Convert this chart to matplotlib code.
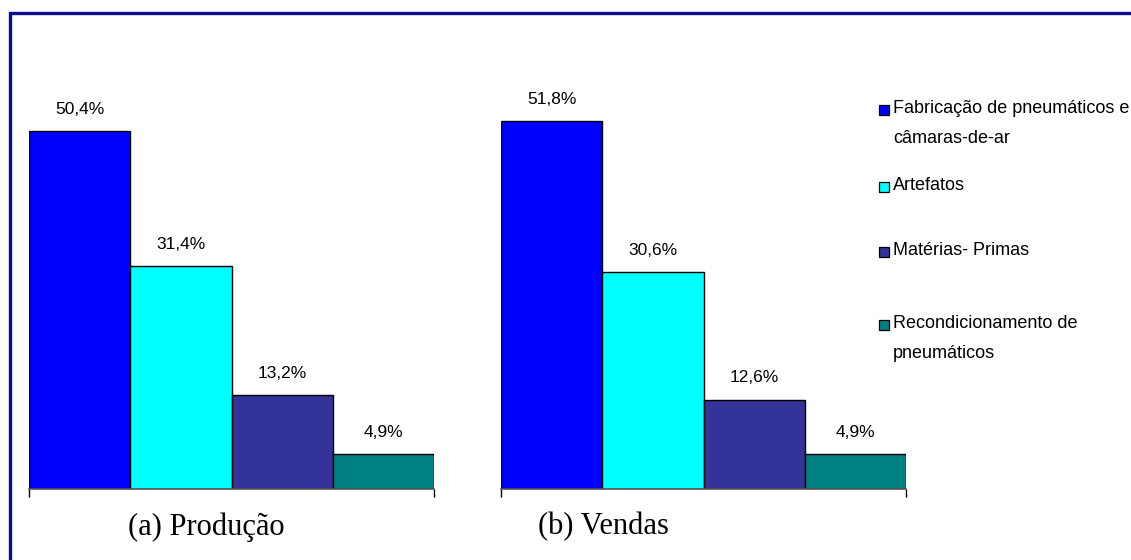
import matplotlib
matplotlib.use("Agg")
import matplotlib.pyplot as plt
from matplotlib.lines import Line2D
from matplotlib.patches import Rectangle

categories = ["Fabricação de pneumáticos e\ncâmaras-de-ar", "Artefatos",
              "Matérias- Primas", "Recondicionamento de\npneumáticos"]
producao = [50.4, 31.4, 13.2, 4.9]
vendas = [51.8, 30.6, 12.6, 4.9]
titles = ["(a) Produção", "(b) Vendas"]
colors = ["#0000FF", "#00FFFF", "#333399", "#008080"]

W, H = 1131, 560
fig = plt.figure(figsize=(W / 100, H / 100), dpi=100)

def fx(px):
    return px / W

def fy(py):
    return 1 - py / H

ymax = 60
base_px = 489
px_per_unit = 7.10
ax_h = ymax * px_per_unit

for left_px, vals, title, tx in [(29, producao, titles[0], 206), (501, vendas, titles[1], 603)]:
    ax = fig.add_axes([fx(left_px), fy(base_px), fx(405), ax_h / H])
    xs = list(range(len(vals)))
    ax.bar(xs, vals, width=1.0, align="edge", color=colors, edgecolor="black", linewidth=1.0)
    for x, v in zip(xs, vals):
        ax.text(x + 0.5, v + 2.0, f"{v:.1f}%".replace(".", ","), ha="center", va="bottom",
                fontsize=12.5, family="Liberation Sans", color="black")
    ax.set_xlim(0, len(vals))
    ax.set_ylim(0, ymax)
    for s in ["top", "right", "left"]:
        ax.spines[s].set_visible(False)
    ax.spines["bottom"].set_color("#555555")
    ax.spines["bottom"].set_linewidth(1.2)
    ax.set_yticks([])
    ax.set_xticks([0, len(vals)])
    ax.set_xticklabels([])
    ax.tick_params(axis="x", direction="out", length=6, width=1, color="black")
    ax.patch.set_alpha(0)
    fig.text(fx(tx), fy(527), title, ha="center", va="center",
             fontsize=22, family="Liberation Serif", color="black")

# legend (manual placement)
leg_y = [110, 187, 252, 325]
for lbl, c, yp in zip(categories, colors, leg_y):
    fig.patches.append(Rectangle((fx(879), fy(yp + 5)), fx(10), 10 / H, transform=fig.transFigure,
                                 facecolor=c, edgecolor="black", linewidth=0.9))
    fig.text(fx(893), fy(yp - 10), lbl, ha="left", va="top", fontsize=13,
             family="Liberation Sans", color="black", linespacing=2.0)

# outer border (top and left)
fig.lines.append(Line2D([fx(9.5), fx(9.5), fx(1131)], [fy(560), fy(12.5), fy(12.5)],
                        transform=fig.transFigure, color="#0A0A8C", linewidth=2.4,
                        solid_joinstyle="miter"))

fig.savefig("out.png", dpi=100)
